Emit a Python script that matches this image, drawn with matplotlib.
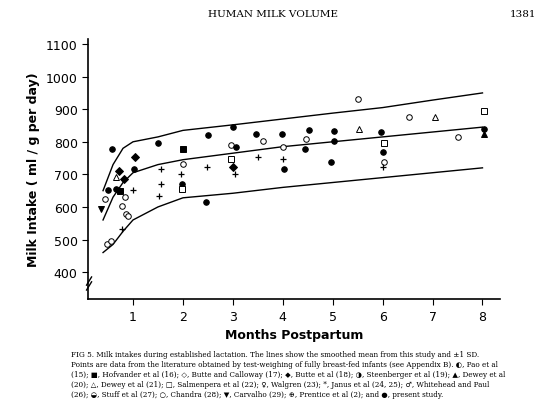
import numpy as np
import matplotlib.pyplot as plt

# smoothed mean and +/- 1 SD curves
curve_x = [0.4, 0.6, 0.8, 1.0, 1.5, 2.0, 3.0, 4.0, 5.0, 6.0, 7.0, 8.0]
mean_y = [560, 630, 675, 705, 730, 745, 765, 785, 800, 815, 830, 845]
upper_y = [650, 730, 780, 800, 815, 835, 852, 870, 888, 905, 928, 950]
lower_y = [460, 485, 525, 560, 600, 628, 642, 660, 675, 690, 705, 720]

# literature points: month, intake, marker, filled
pts_x = [0.5, 0.44, 0.36, 0.58, 0.66, 0.72, 0.66, 0.82, 0.74, 0.78, 0.86, 0.9, 0.84, 1.0,
         0.48, 0.56, 0.78, 1.02, 1.04, 1.5, 1.56, 1.56, 1.52, 2.0, 2.0, 1.96, 1.98, 1.98,
         2.5, 2.48, 2.46, 2.96, 2.96, 3.0, 3.04, 3.06, 3.0, 3.46, 3.6, 3.5, 3.98, 4.0, 4.0,
         4.02, 4.46, 4.52, 4.44, 5.02, 5.02, 4.96, 5.5, 5.52, 5.96, 6.02, 6.0, 6.02, 6.0,
         6.52, 7.04, 7.5, 8.04, 8.04, 8.04]
pts_y = [652, 624, 593, 777, 691, 710, 655, 685, 648, 602, 578, 572, 630, 652,
         486, 495, 532, 716, 753, 796, 716, 670, 633, 777, 731, 700, 670, 655,
         820, 722, 615, 790, 747, 722, 700, 783, 845, 823, 802, 753, 823, 783, 747,
         716, 808, 836, 777, 833, 802, 737, 930, 839, 830, 796, 768, 737, 722,
         875, 875, 814, 894, 839, 823]
pts_m = ['o', 'o', 'v', 'o', '^', 'D', 'o', 'D', 's', 'o', 'o', 'o', 'o', '+',
         'o', 'o', '+', 'o', 'D', 'o', '+', '+', '+', 's', 'o', '+', 'o', 's',
         'o', '+', 'o', 'o', 's', 'D', '+', 'o', 'o', 'o', 'o', '+', 'o', 'o', '+',
         'o', 'o', 'o', 'o', 'o', 'o', 'o', 'o', '^', 'o', 's', 'o', 'o', '+',
         'o', '^', 'o', 's', 'o', '^']
pts_f = [1, 0, 1, 1, 0, 1, 1, 1, 1, 0, 0, 0, 0, 1,
         0, 0, 1, 1, 1, 1, 1, 1, 1, 1, 0, 1, 1, 0,
         1, 1, 1, 0, 0, 1, 1, 1, 1, 1, 0, 1, 1, 0, 1,
         1, 0, 1, 1, 1, 1, 1, 0, 0, 1, 0, 1, 0, 1,
         0, 0, 0, 0, 1, 1]

yticks = [400, 500, 600, 700, 800, 900, 1000, 1100]
xticks = [1, 2, 3, 4, 5, 6, 7, 8]

fig = plt.figure(figsize=(5.47, 4.10), dpi=100)
ax = fig.add_axes([0.161, 0.268, 0.753, 0.634])

for cy in (mean_y, upper_y, lower_y):
    ax.plot(curve_x, cy, color='black', lw=1.0)

for x, y, m, f in zip(pts_x, pts_y, pts_m, pts_f):
    if m == '+':
        ax.plot(x, y, marker='+', color='black', ms=5, mew=0.9)
    else:
        ax.plot(x, y, marker=m, ms=4, mec='black', mew=0.7,
                mfc='black' if f else 'white')

ax.set_xlim(0.1, 8.35)
ax.set_ylim(317, 1115)
ax.set_xticks(xticks)
ax.set_yticks(yticks)
ax.tick_params(labelsize=9, direction='out', length=4)
for s in ('top', 'right'):
    ax.spines[s].set_visible(False)
for s in ('left', 'bottom'):
    ax.spines[s].set_linewidth(1.2)
# axis break marks
ax.plot([0.07, 0.17], [345, 370], color='black', lw=1, clip_on=False)
ax.plot([0.07, 0.17], [360, 385], color='black', lw=1, clip_on=False)
ax.set_xlabel('Months Postpartum', fontsize=9, fontweight='bold')
ax.set_ylabel('Milk Intake ( ml / g per day)', fontsize=9, fontweight='bold')

fig.text(0.5, 0.975, 'HUMAN MILK VOLUME', ha='center', va='top', fontsize=7.5, family='serif')
fig.text(0.98, 0.975, '1381', ha='right', va='top', fontsize=7.5, family='serif')
caption = ("FIG 5. Milk intakes during established lactation. The lines show the smoothed mean from this study and \u00b11 SD.\n"
           "Points are data from the literature obtained by test-weighing of fully breast-fed infants (see Appendix B). \u25d0, Pao et al\n"
           "(15); \u25a0, Hofvander et al (16); \u25c7, Butte and Calloway (17); \u25c6, Butte et al (18); \u25d1, Steenberger et al (19); \u25b2, Dewey et al\n"
           "(20); \u25b3, Dewey et al (21); \u25a1, Salmenpera et al (22); \u2640, Walgren (23); *, Janus et al (24, 25); \u2642, Whitehead and Paul\n"
           "(26); \u25d2, Stuff et al (27); \u25cb, Chandra (28); \u25bc, Carvalho (29); \u2295, Prentice et al (2); and \u25cf, present study.")
fig.text(0.13, 0.145, caption, ha='left', va='top', fontsize=5.2, family='serif', linespacing=1.35)

fig.savefig('out.png', dpi=100)
